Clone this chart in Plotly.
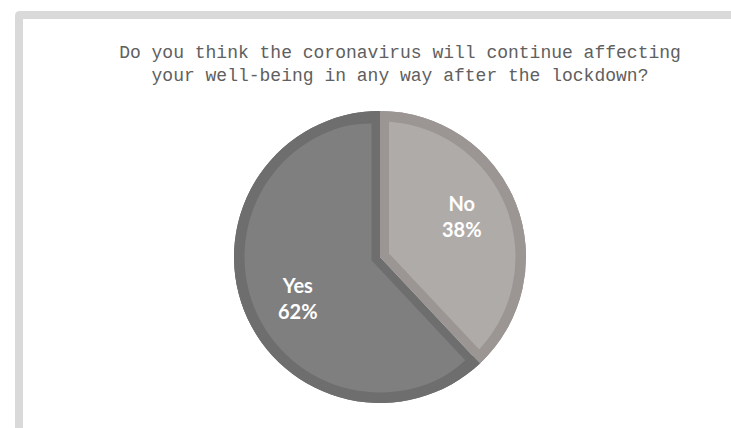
import math
import plotly.graph_objects as go

# ---- data ----
labels = ["No", "Yes"]
values = [38, 62]
title_lines = ["Do you think the coronavirus will continue affecting",
               "your well-being in any way after the lockdown?"]

# ---- style ----
fill_colors = ["#afaba8", "#7f7f7f"]
border_colors = ["#9b9693", "#6e6e6e"]
W, H = 731, 428
cx, cy, R = 380, 257, 146          # pie centre / radius in px
radial_inset = [9.0, 8.5]          # border width along radial edges (px)
arc_border = 10.5                  # border width along arc (px)
label_r = 0.63                     # label distance as fraction of radius
label_shift_deg = -5               # label anchor offset from slice bisector

dom = dict(x=[(cx - R) / W, (cx + R) / W],
           y=[1 - (cy + R) / H, 1 - (cy - R) / H])
clear = "rgba(0,0,0,0)"

n_total = sum(values)
fig = go.Figure()

common = dict(labels=labels, values=values, sort=False, direction="clockwise",
              rotation=0, domain=dom, hoverinfo="skip", textinfo="none",
              showlegend=False)

# base disc in border colours
fig.add_trace(go.Pie(marker=dict(colors=border_colors, line=dict(width=0)), **common))

# inner fills: slices pulled outwards so their radial edges are inset
for i in range(len(values)):
    half = math.pi * values[i] / n_total
    d = radial_inset[i] / math.sin(half)
    p = d / (R - d)
    cols = [clear] * len(values)
    cols[i] = fill_colors[i]
    pulls = [0] * len(values)
    pulls[i] = p
    fig.add_trace(go.Pie(marker=dict(colors=cols, line=dict(width=0)), pull=pulls, **common))

# outer ring in border colours
fig.add_trace(go.Pie(marker=dict(colors=border_colors, line=dict(width=0)),
                     hole=(R - arc_border) / R, **common))


def px(x):
    return x / W


def py(y):
    return 1 - y / H


# slice labels placed from the data angles
start = 0.0
for lab, v in zip(labels, values):
    frac = v / n_total
    mid = (start + frac / 2) * 360 + label_shift_deg
    start += frac
    a = math.radians(mid)
    lx = cx + label_r * R * math.sin(a)
    ly = cy - label_r * R * math.cos(a)
    fig.add_annotation(x=px(lx), y=py(ly), xref="paper", yref="paper",
                       text=f"{lab}<br>{round(frac * 100)}%", showarrow=False,
                       xanchor="center", yanchor="middle", align="center",
                       font=dict(family="Lato", size=20, color="white", weight="bold"))

# frame (L-shaped grey border)
path = (f"M {px(15)},{py(430)} L {px(15)},{py(16)} Q {px(15)},{py(11)} {px(20)},{py(11)} "
        f"L {px(733)},{py(11)} L {px(733)},{py(19)} L {px(23)},{py(19)} L {px(23)},{py(430)} Z")
fig.add_shape(type="path", path=path, xref="paper", yref="paper",
              fillcolor="#d9d9d9", line=dict(width=0), layer="below")

fig.update_layout(
    width=W, height=H,
    margin=dict(l=0, r=0, t=0, b=0),
    paper_bgcolor="white", plot_bgcolor="white",
    title=dict(text="<br>".join(title_lines), x=400 / W, xanchor="center",
               y=1 - 58 / H, yanchor="top", yref="container",
               font=dict(family="Liberation Mono", size=18, color="#606060")),
)

fig.write_html("out.html")
